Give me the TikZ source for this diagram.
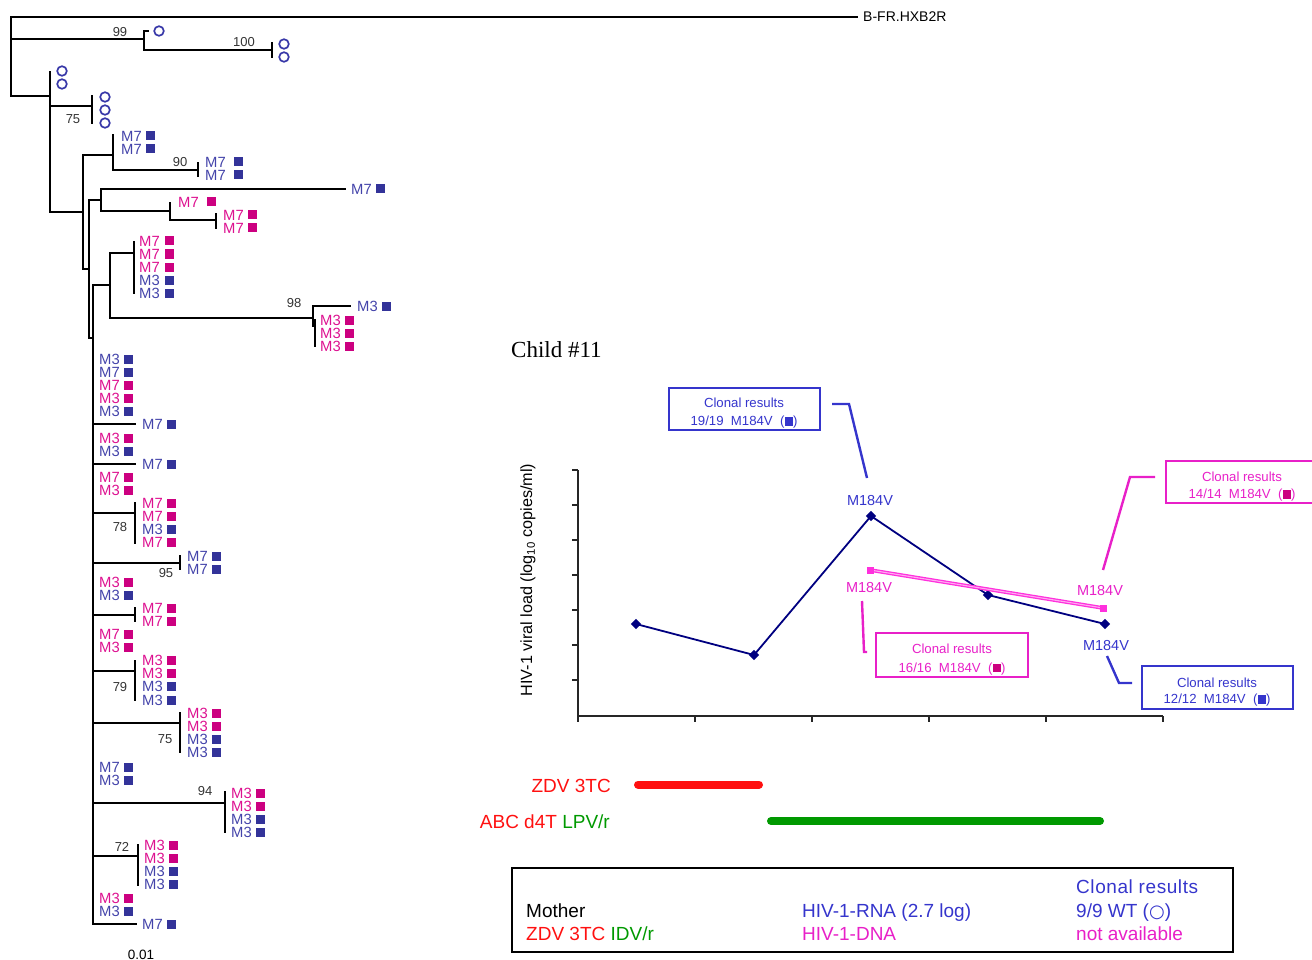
\documentclass[tikz,border=0pt]{standalone}
\usepackage{fontspec}
\setmainfont{Liberation Sans}
\newfontfamily\serifc{Liberation Serif}
\newfontfamily\dejavu{DejaVu Sans}
\usetikzlibrary{shapes.geometric}

\definecolor{tblue}{HTML}{4444AA}
\definecolor{tbsq}{HTML}{333399}
\definecolor{tpink}{HTML}{DD1190}
\definecolor{tpsq}{HTML}{CC0080}
\definecolor{circc}{HTML}{3838A8}
\definecolor{navyc}{HTML}{000080}
\definecolor{cblue}{HTML}{3535CC}
\definecolor{cpink}{HTML}{E820C8}
\definecolor{lpink}{HTML}{FF30DD}
\definecolor{greenc}{HTML}{009900}
\definecolor{redc}{HTML}{FF1010}
\definecolor{bootc}{HTML}{333333}

\newcommand\fsz[1]{\fontsize{#1}{#1}\selectfont}
\newcommand\sqmark[1]{\textcolor{#1}{\rule{8.5pt}{8.5pt}}}
\newcommand\leafb[4][29]{\node[tl,text=tblue] (L#2x#3) at (#2,#3) {#4};\fill[tbsq] ({#2+#1-4.5},{#3-4.5}) rectangle ++(9,9);}
\newcommand\leafp[4][29]{\node[tl,text=tpink] (L#2x#3) at (#2,#3) {#4};\fill[tpsq] ({#2+#1-4.5},{#3-4.5}) rectangle ++(9,9);}

\begin{document}
\begin{tikzpicture}[x=1pt,y=-1pt,
  br/.style={line width=1.8pt,line cap=rect,line join=miter,black},
  tl/.style={anchor=west,inner sep=0pt,font=\fsz{14.8}},
  bs/.style={inner sep=0pt,font=\fsz{13},text=bootc},
  circ/.style={draw=circc,line width=1.7pt},
  mlab/.style={anchor=base,inner sep=0pt,font=\fsz{14.5}},
  ctext/.style={anchor=base,inner sep=0pt,font=\fsz{13.2}},
  cbox/.style={draw,line width=2.4pt,inner sep=0pt},
  callout/.style={line width=2.4pt,line join=miter},
  leg/.style={anchor=base west,inner sep=0pt,font=\fsz{19}},
  trt/.style={anchor=base east,inner sep=0pt,font=\fsz{19}},
  dmark/.style={diamond,fill=navyc,minimum size=10.5pt,inner sep=0pt},
  pmark/.style={rectangle,fill=lpink,minimum size=7pt,inner sep=0pt}]
\useasboundingbox (0,0) rectangle (1312,960);

% ---------------- tree ----------------
\draw[br] (857,17) -- (11,17) -- (11,96) -- (50,96);
\draw[br] (11,39) -- (144,39);
\draw[br] (148,31) -- (144,31) -- (144,50) -- (272,50);
\draw[br] (272,43) -- (272,57);
\draw[br] (50,72) -- (50,212) -- (83,212);
\draw[br] (50,106) -- (92,106);
\draw[br] (92,96) -- (92,123);
\draw[br] (113,135) -- (113,170) -- (198,170);
\draw[br] (198,163) -- (198,176);
\draw[br] (113,155) -- (83,155) -- (83,269) -- (89,269);
\draw[br] (101,200) -- (89,200) -- (89,338) -- (93,338);
\draw[br] (345,189) -- (101,189) -- (101,211) -- (170,211);
\draw[br] (170,203) -- (170,220) -- (216,220);
\draw[br] (216,214) -- (216,228);
\draw[br] (136,924) -- (93,924) -- (93,285) -- (110,285);
\draw[br] (134,253) -- (110,253) -- (110,318) -- (313,318);
\draw[br] (134,242) -- (134,293);
\draw[br] (350,306) -- (313,306) -- (313,326);
\draw[br] (315,320) -- (315,346);
\foreach \y/\x in {424/135,464/135,513/135,563/180,615/135,671/135,723/180,803/225,856/138}
  \draw[br] (93,\y) -- (\x,\y);
\foreach \x/\a/\b in {135/503/543,180/556/569,135/608/621,135/661/700,180/713/752,225/792/832,138/845/885}
  \draw[br] (\x,\a) -- (\x,\b);

\node[anchor=west,inner sep=0pt,font=\fsz{14}] (ref) at (863,17) {B-FR.HXB2R};

\foreach \x/\y in {159/31,284/44,284/57,62/71,62/84,105/97,105/110,105/123}
  \draw[circ] (\x,\y) circle[radius=4.8pt];

\foreach \x/\y/\t in {120/32/99,244/42/100,73/119/75,180/162/90,294/303/98,120/527/78,166/573/95,120/687/79,165/739/75,205/791/94,122/847/72}
  \node[bs] at (\x,\y) {\t};

\leafb{121}{136}{M7} \leafb{121}{149}{M7}
\leafb[33]{205}{162}{M7} \leafb[33]{205}{175}{M7}
\leafb{351}{189}{M7}
\leafp[33]{178}{202}{M7}
\leafp{223}{215}{M7} \leafp{223}{228}{M7}
\leafp[30]{139}{241}{M7} \leafp[30]{139}{254}{M7} \leafp[30]{139}{267}{M7} \leafb[30]{139}{280}{M3} \leafb[30]{139}{293}{M3}
\leafb{357}{306}{M3}
\leafp{320}{320}{M3} \leafp{320}{333}{M3} \leafp{320}{346}{M3}
\leafb{99}{359}{M3} \leafb{99}{372}{M7} \leafp{99}{385}{M7} \leafp{99}{398}{M3} \leafb{99}{411}{M3}
\leafb{142}{424}{M7}
\leafp{99}{438}{M3} \leafb{99}{451}{M3}
\leafb{142}{464}{M7}
\leafp{99}{477}{M7} \leafp{99}{490}{M3}
\leafp{142}{503}{M7} \leafp{142}{516}{M7} \leafb{142}{529}{M3} \leafp{142}{542}{M7}
\leafb{187}{556}{M7} \leafb{187}{569}{M7}
\leafp{99}{582}{M3} \leafb{99}{595}{M3}
\leafp{142}{608}{M7} \leafp{142}{621}{M7}
\leafp{99}{634}{M7} \leafp{99}{647}{M3}
\leafp{142}{660}{M3} \leafp{142}{673}{M3} \leafb{142}{686}{M3} \leafb{142}{700}{M3}
\leafp{187}{713}{M3} \leafp{187}{726}{M3} \leafb{187}{739}{M3} \leafb{187}{752}{M3}
\leafb{99}{767}{M7} \leafb{99}{780}{M3}
\leafp{231}{793}{M3} \leafp{231}{806}{M3} \leafb{231}{819}{M3} \leafb{231}{832}{M3}
\leafp{144}{845}{M3} \leafp{144}{858}{M3} \leafb{144}{871}{M3} \leafb{144}{884}{M3}
\leafp{99}{898}{M3} \leafb{99}{911}{M3}
\leafb{142}{924}{M7}

\node[inner sep=0pt,font=\fsz{13.5}] (scale) at (141,955) {0.01};

% ---------------- chart ----------------
\node[anchor=base west,inner sep=0pt,font=\serifc\fsz{23}] (title) at (511,357) {Child \#11};

\draw[line width=1.5pt,black!85] (578,470) -- (578,716) -- (1163,716);
\foreach \y in {470,505,540,575,610,645,680}
  \draw[line width=1.5pt,black!85] (572,\y) -- (578,\y);
\foreach \x in {578,695,812,929,1046,1163}
  \draw[line width=1.5pt,black!85] (\x,716) -- (\x,722);

\node[rotate=90,inner sep=0pt,font=\fsz{16.2}] (ylab) at (528,580) {HIV-1 viral load (log\textsubscript{10} copies/ml)};

\coordinate (v1) at (636,624);
\coordinate (v2) at (754,655);
\coordinate (v3) at (871,516);
\coordinate (v4) at (988,595);
\coordinate (v5) at (1105,624);
\draw[navyc,line width=1.8pt,line join=round] (v1) -- (v2) -- (v3) -- (v4) -- (v5);
\foreach \p in {v1,v2,v3,v4,v5} \node[dmark] at (\p) {};

\coordinate (p1) at (870,570);
\coordinate (p2) at (1103,608);
\draw[lpink,line width=1.3pt,double=lpink!40,double distance=1.1pt] (p1) -- (p2);
\node[pmark] (pm1) at (p1) {};
\node[pmark] (pm2) at (p2) {};

\node[mlab,text=cblue] (mb1) at (870,505.9) {M184V};
\node[mlab,text=cpink] (mp1) at (869,592.2) {M184V};
\node[mlab,text=cpink] (mp2) at (1100,595.2) {M184V};
\node[mlab,text=cblue] (mb2) at (1106,650.9) {M184V};

% callout boxes
\node[cbox,draw=cblue,minimum width=151pt,minimum height=42pt] (cb1) at (744.5,409) {};
\node[ctext,text=cblue] at (744,407.7) {Clonal results};
\node[ctext,text=cblue] at (744,425.7) {19/19\ \ M184V\ \ (\sqmark{cblue})};

\node[cbox,draw=cpink,minimum width=152pt,minimum height=42pt] (cp1) at (1242,482) {};
\node[ctext,text=cpink] at (1242,481.7) {Clonal results};
\node[ctext,text=cpink] at (1242,498.7) {14/14\ \ M184V\ \ (\sqmark{tpsq})};

\node[cbox,draw=cpink,minimum width=152pt,minimum height=44pt] (cp2) at (952,655) {};
\node[ctext,text=cpink] at (952,653.7) {Clonal results};
\node[ctext,text=cpink] at (952,672.4) {16/16\ \ M184V\ \ (\sqmark{tpsq})};

\node[cbox,draw=cblue,minimum width=151pt,minimum height=43pt] (cb2) at (1217.5,687.5) {};
\node[ctext,text=cblue] at (1217,687) {Clonal results};
\node[ctext,text=cblue] at (1217,703.7) {12/12\ \ M184V\ \ (\sqmark{cblue})};

\coordinate (c1a) at (832,404);
\coordinate (c1b) at (867,478);
\draw[callout,cblue] (c1a) -- (849,404) -- (c1b);
\coordinate (c2a) at (1155,477);
\coordinate (c2b) at (1103,570);
\draw[callout,cpink] (c2a) -- (1130,477) -- (c2b);
\coordinate (c3a) at (862,601);
\coordinate (c3b) at (867,652);
\draw[callout,cpink] (c3a) -- (864,652) -- (c3b);
\coordinate (c4a) at (1107,656);
\coordinate (c4b) at (1132,683);
\draw[callout,cblue] (c4a) -- (1119,683) -- (c4b);

% treatments
\node[trt,text=redc] (t1) at (611,792) {ZDV 3TC};
\node[trt] (t2) at (610,828) {\textcolor{redc}{ABC d4T }\textcolor{greenc}{LPV/r}};
\coordinate (r1) at (638,784.5);
\coordinate (r2) at (759,784.5);
\draw[redc,line width=8pt,line cap=round] (r1) -- (r2);
\coordinate (g1) at (771,821);
\coordinate (g2) at (1100,821);
\draw[greenc,line width=8pt,line cap=round] (g1) -- (g2);

% legend
\node[draw,line width=1.4pt,minimum width=721pt,minimum height=84pt,inner sep=0pt] (legend) at (872.5,910) {};
\node[leg] at (526,917.8) {Mother};
\node[leg] at (526,940.8) {\textcolor{redc}{ZDV 3TC }\textcolor{greenc}{IDV/r}};
\node[leg,text=cblue] at (802,917.8) {HIV-1-RNA (2.7 log)};
\node[leg,text=cpink] at (802,940.8) {HIV-1-DNA};
\node[leg,text=cblue] at (1076,893.8) {\addfontfeatures{LetterSpace=3}Clonal results};
\node[leg,text=cblue] at (1076,917.8) {9/9 WT ({\dejavu\fsz{18}○})};
\node[leg,text=cpink] at (1076,940.8) {not available};
\end{tikzpicture}
\end{document}
